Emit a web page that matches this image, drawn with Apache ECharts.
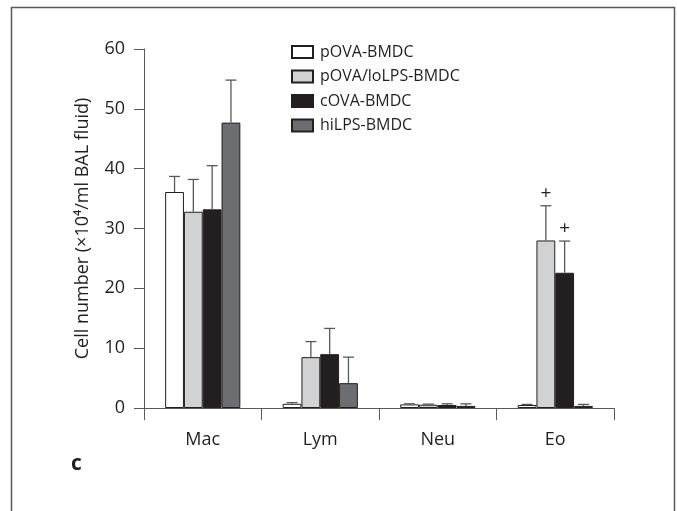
<!DOCTYPE html>
<html>
<head>
<meta charset="utf-8">
<script src="https://cdn.jsdelivr.net/npm/echarts@6/dist/echarts.min.js"></script>
<style>html,body{margin:0;padding:0;background:#fff}#c{width:677px;height:511px}</style>
</head>
<body>
<div id="c"></div>
<script>
var categories = ['Mac', 'Lym', 'Neu', 'Eo'];
var seriesNames = ['pOVA-BMDC', 'pOVA/loLPS-BMDC', 'cOVA-BMDC', 'hiLPS-BMDC'];
var pOVA = [36.1, 0.7, 0.6, 0.5];
var pOVAErr = [2.6, 0.2, 0.1, 0.1];
var loLPS = [32.8, 8.5, 0.55, 28.0];
var loLPSErr = [5.4, 2.6, 0.1, 5.8];
var cOVA = [33.2, 9.0, 0.5, 22.6];
var cOVAErr = [7.3, 4.3, 0.2, 5.3];
var hiLPS = [47.7, 4.15, 0.35, 0.35];
var hiLPSErr = [7.1, 4.35, 0.35, 0.25];
var loLPSMark = ['', '', '', '+'];
var cOVAMark = ['', '', '', '+'];
var noMark = ['', '', '', ''];
var yTicks = [0, 10, 20, 30, 40, 50, 60];

var colors = ['#ffffff', '#d1d2d4', '#231f20', '#6d6e71'];
var values = [pOVA, loLPS, cOVA, hiLPS];
var errs = [pOVAErr, loLPSErr, cOVAErr, hiLPSErr];
var marks = [noMark, loLPSMark, cOVAMark, noMark];
var FONT = '"Open Sans", sans-serif';
var TXT = '#231f20';
var BAR_FRAC = 0.16;

var series = [];
values.forEach(function (vals, s) {
  series.push({
    name: seriesNames[s],
    type: 'bar',
    data: vals,
    barWidth: (BAR_FRAC * 100) + '%',
    barGap: '0%',
    itemStyle: { color: colors[s], borderColor: '#231f20', borderWidth: 1 },
    z: 2
  });
});
values.forEach(function (vals, s) {
  series.push({
    type: 'custom',
    name: seriesNames[s] + ' err',
    z: 3,
    encode: { x: 0, y: 1 },
    data: vals.map(function (v, i) { return [i, v, errs[s][i]]; }),
    renderItem: function (params, api) {
      var ci = api.value(0);
      var v = api.value(1);
      var e = api.value(2);
      var m = marks[s][params.dataIndex];
      var band = api.size([1, 0])[0];
      var w = band * BAR_FRAC;
      var base = api.coord([ci, v]);
      var top = api.coord([ci, v + e]);
      var x = base[0] + (s - 1.5) * w;
      var children = [
        { type: 'line', shape: { x1: x, y1: base[1], x2: x, y2: top[1] }, style: { stroke: '#58595b', lineWidth: 1.3 } },
        { type: 'line', shape: { x1: x - 5.5, y1: top[1], x2: x + 5.5, y2: top[1] }, style: { stroke: '#58595b', lineWidth: 1.3 } }
      ];
      if (m) {
        children.push({ type: 'text', style: { text: m, x: x, y: top[1] - 3, align: 'center', verticalAlign: 'bottom', font: '19px ' + FONT, fill: TXT } });
      }
      return { type: 'group', children: children };
    },
    silent: true
  });
});

var chart = echarts.init(document.getElementById('c'), null, { renderer: 'canvas' });
chart.setOption({
  backgroundColor: '#fff',
  animation: false,
  grid: { left: 144, right: 63, top: 49, bottom: 103, containLabel: false },
  legend: {
    data: seriesNames,
    orient: 'vertical',
    left: 291,
    top: 44,
    padding: 0,
    itemWidth: 21,
    itemHeight: 12,
    itemGap: 8.5,
    icon: 'rect',
    textStyle: { fontFamily: FONT, fontSize: 16, color: TXT, lineHeight: 16, padding: [0, 0, 0, 2] }
  },
  xAxis: {
    type: 'category',
    data: categories,
    axisLine: { lineStyle: { color: '#58595b', width: 1 } },
    axisTick: { show: true, length: 12, lineStyle: { color: '#58595b' } },
    axisLabel: { fontFamily: FONT, fontSize: 18, color: TXT, margin: 23 }
  },
  yAxis: {
    type: 'value',
    min: yTicks[0],
    max: yTicks[yTicks.length - 1],
    interval: yTicks[1] - yTicks[0],
    name: 'Cell number (×10⁴/ml BAL fluid)',
    nameLocation: 'middle',
    nameGap: 52,
    nameRotate: 90,
    nameTextStyle: { fontFamily: FONT, fontSize: 18, color: TXT },
    splitLine: { show: false },
    axisLine: { show: true, lineStyle: { color: '#58595b', width: 1 } },
    axisTick: { show: true, length: 10, lineStyle: { color: '#58595b' } },
    axisLabel: { fontFamily: FONT, fontSize: 18, color: TXT, margin: 19 }
  },
  graphic: [
    { type: 'rect', shape: { x: 11.5, y: 7.5, width: 663, height: 530 }, style: { fill: 'none', stroke: '#58595b', lineWidth: 1.5 }, silent: true },
    { type: 'text', left: 71, top: 454, style: { text: 'c', font: 'bold 21px ' + FONT, fill: TXT } }
  ],
  series: series
});
</script>
</body>
</html>
